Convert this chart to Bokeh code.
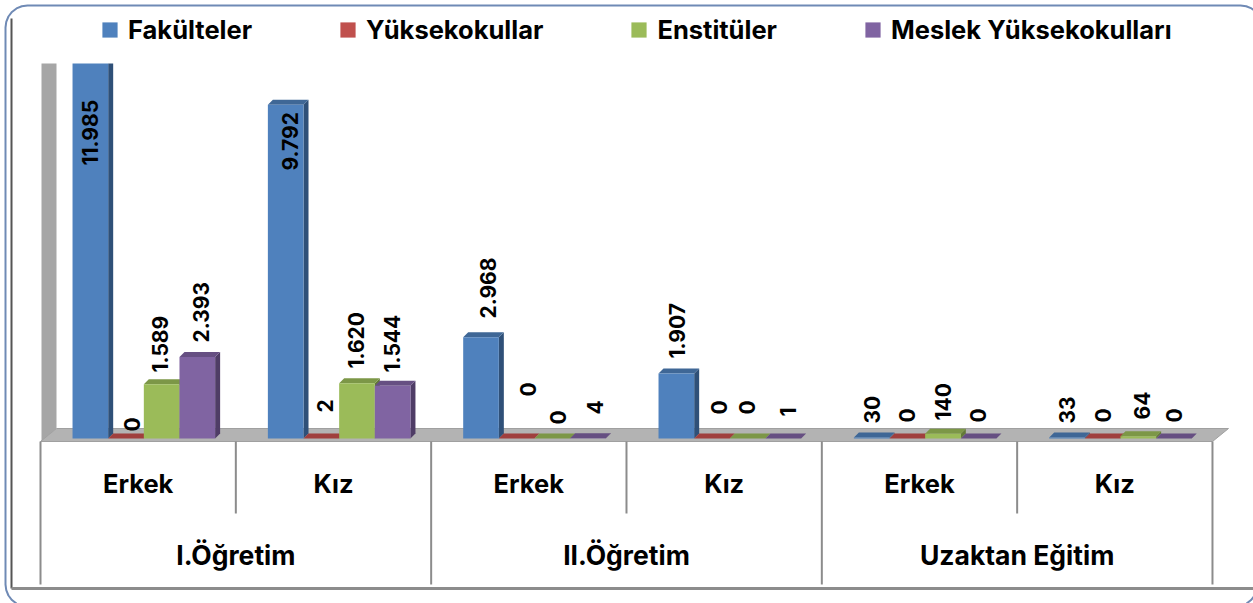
from bokeh.plotting import figure
from bokeh.models import ColumnDataSource, Range1d, Legend, LegendItem
from bokeh.core.properties import value
from bokeh.embed import file_html
from bokeh.resources import INLINE
import math

# ---- data -------------------------------------------------------------
series = ["Fakülteler", "Yüksekokullar", "Enstitüler", "Meslek Yüksekokulları"]
sub_cats = ["Erkek", "Kız", "Erkek", "Kız", "Erkek", "Kız"]
main_cats = ["I.Öğretim", "II.Öğretim", "Uzaktan Eğitim"]
fakulteler = [11985, 9792, 2968, 1907, 30, 33]
yuksekokullar = [0, 2, 0, 0, 0, 0]
enstituler = [1589, 1620, 0, 0, 140, 64]
meslek = [2393, 1544, 4, 1, 0, 0]
label_text = [
    ["11.985", "9.792", "2.968", "1.907", "30", "33"],
    ["0", "2", "0", "0", "0", "0"],
    ["1.589", "1.620", "0", "0", "140", "64"],
    ["2.393", "1.544", "4", "1", "0", "0"],
]
axis_max = 11000

# ---- styling ----------------------------------------------------------
front = ["#4f81bd", "#c0504d", "#9bbb59", "#8064a2"]
side = ["#2f5078", "#7a3331", "#637a37", "#4f3d66"]
top = ["#3f6796", "#a03f3d", "#7c9747", "#664f82"]
FONT = "Inter"
SLOT_PX = 195.33
Y_PX = 375.0 / axis_max
LEFT_PX, BASE_PX = 40.0, 438.0
W, H = 1253, 603
DEPTH = 5.0
label_dx = [[0, 4, 7, 1, 0, 0], [6, 4, 11, 7, 0, 0], [-2, -1, 6, -1, 0, 4], [4, -1, 7, 5, -1, 0]]
label_lift = [[273, 268, 120, 80, 15, 15], [7, 26, 42, 24, 16, 16],
              [66, 70, 14, 24, 18, 19], [96, 66, 24, 22, 16, 16]]

p = figure(width=W, height=H, output_backend="svg", toolbar_location=None,
           x_axis_type=None, y_axis_type=None, min_border=0,
           outline_line_color=None, background_fill_color="white", border_fill_color="white",
           x_range=Range1d((0 - LEFT_PX) / SLOT_PX, (W - LEFT_PX) / SLOT_PX),
           y_range=Range1d(-(H - BASE_PX) / Y_PX, BASE_PX / Y_PX))
p.grid.visible = False


def X(px):
    return px / SLOT_PX


def Y(px):
    return px / Y_PX


# frame
r = 22
arc = lambda cx, cy, a0: [(X(cx - LEFT_PX + r * math.cos(math.radians(a0 + i * 15))),
                           Y(BASE_PX - cy + r * math.sin(math.radians(a0 + i * 15)))) for i in range(7)]
corners = arc(1240, 27, 0) + arc(27, 27, 90) + arc(27, 584, 180) + arc(1235, 584, 270)
fx, fy = zip(*corners)
p.patch(list(fx), list(fy), fill_color=None, line_color="#6f8ab5", line_width=2)
p.line([X(11 - LEFT_PX), X(11 - LEFT_PX)], [Y(BASE_PX - 18), Y(BASE_PX - 588)],
       line_color="#555555", line_width=2)
p.line([X(11 - LEFT_PX), X(W - LEFT_PX)], [Y(BASE_PX - 588), Y(BASE_PX - 588)],
       line_color="#8c8c8c", line_width=3)

# walls and floor
p.patch([X(1), X(16), X(16), X(1)], [Y(-3), Y(10), Y(375), Y(375)], fill_color="#a6a6a6", line_color=None)
p.patch([X(0), X(1172), X(1188), X(16)], [Y(-3), Y(-3), Y(10), Y(10)],
        fill_color="#b3b3b3", line_color="#a0a0a0", line_width=1)

# category axis rules
for i in range(7):
    bottom_px = 146 if i % 2 == 0 else 75
    p.line([i, i], [Y(-3), Y(-bottom_px)], line_color="#8c8c8c", line_width=2)

# bars
values = [fakulteler, yuksekokullar, enstituler, meslek]
BAR_W = 0.1825
GROUP_START = 0.164
legend_items = []
for s, vals in enumerate(values):
    xc = [g + GROUP_START + BAR_W * (s + 0.5) for g in range(6)]
    shown = [min(v, axis_max) for v in vals]
    r_side = []
    r_top = []
    for c, v in zip(xc, shown):
        right = c + BAR_W / 2
        left = c - BAR_W / 2
        clipped = v >= axis_max
        lift = 0 if clipped else Y(DEPTH)
        r_side.append(([right, right + X(DEPTH), right + X(DEPTH), right],
                       [0, Y(DEPTH), v + lift, v]))
        if not clipped:
            r_top.append(([left, right, right + X(DEPTH), left + X(DEPTH)],
                          [v, v, v + lift, v + lift]))
    p.patches([a for a, _ in r_side], [b for _, b in r_side], fill_color=side[s], line_color=None)
    p.patches([a for a, _ in r_top], [b for _, b in r_top], fill_color=top[s], line_color=None)
    rend = p.vbar(x=xc, top=shown, bottom=0, width=BAR_W, fill_color=front[s], line_color=None)
    legend_items.append(LegendItem(label=series[s], renderers=[rend]))

    src = ColumnDataSource(dict(x=xc, y=[0] * 6, t=label_text[s], dx=label_dx[s],
                                dy=[-v for v in label_lift[s]]))
    p.text("x", "y", text="t", source=src, x_offset="dx", y_offset="dy", angle=math.pi / 2,
           text_align="left", text_baseline="middle", text_font=value(FONT), text_font_style="bold",
           text_font_size="21px", text_color="black")

# category labels
p.text(x=[i + 0.5 for i in range(6)], y=[0] * 6, text=sub_cats, y_offset=[45] * 6,
       text_align="center", text_baseline="middle", text_font=value(FONT), text_font_style="bold",
       text_font_size="25.5px", text_color="black")
p.text(x=[1, 3, 5], y=[0] * 3, text=main_cats, y_offset=[116] * 3,
       text_align="center", text_baseline="middle", text_font=value(FONT), text_font_style="bold",
       text_font_size="26.5px", text_color="black")

legend = Legend(items=legend_items, orientation="horizontal", location=(100, H - 45),
                background_fill_alpha=0, border_line_color=None, spacing=86,
                glyph_width=19, glyph_height=19, label_standoff=9, padding=0, margin=0,
                label_text_font=FONT, label_text_font_style="bold", label_text_font_size="25.5px",
                label_text_color="black", label_height=20)
p.add_layout(legend, "center")

open("out.html", "w").write(file_html(p, INLINE))
